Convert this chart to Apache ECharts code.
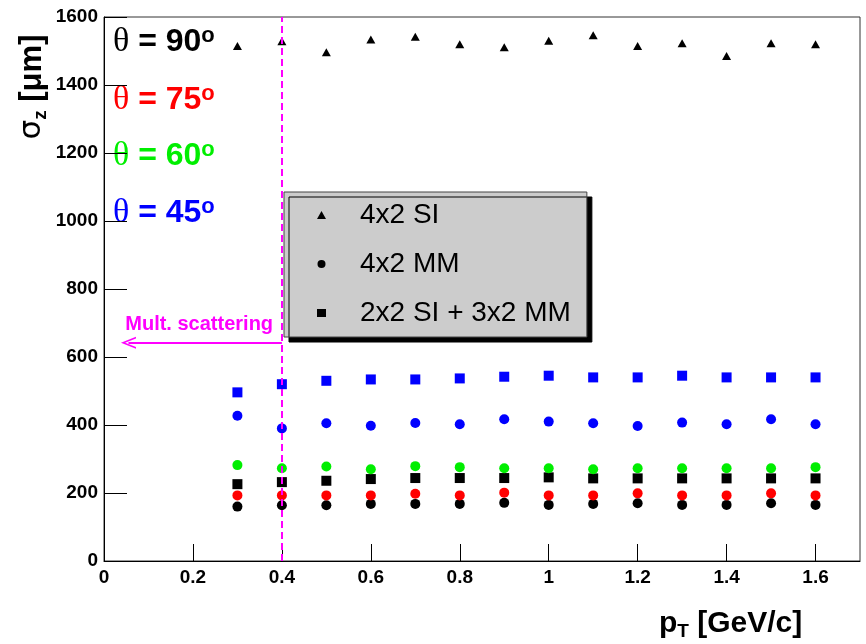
<!DOCTYPE html>
<html>
<head>
<meta charset="utf-8">
<script src="https://cdn.jsdelivr.net/npm/echarts@6/dist/echarts.min.js"></script>
<style>
  html, body { margin: 0; padding: 0; background: #ffffff; }
  #chart { width: 866px; height: 644px; }
</style>
</head>
<body>
<div id="chart"></div>
<script>
// Transverse momentum points [GeV/c]
const pT = [0.3, 0.4, 0.5, 0.6, 0.7, 0.8, 0.9, 1.0, 1.1, 1.2, 1.3, 1.4, 1.5, 1.6];

// sigma_z [um] for each layout and polar angle
const si4x2_th90 = [1515, 1529, 1496, 1534, 1542, 1520, 1511, 1530, 1546, 1515, 1523, 1485, 1523, 1520];
const mm4x2_th90 = [160, 164, 164, 168, 168, 168, 171, 165, 168, 170, 165, 165, 170, 165];
const mm4x2_th75 = [193, 193, 193, 193, 198, 193, 201, 193, 193, 199, 193, 193, 199, 193];
const mm4x2_th60 = [282, 273, 278, 270, 279, 276, 273, 273, 270, 273, 273, 273, 273, 276];
const mm4x2_th45 = [427, 390, 405, 398, 406, 402, 417, 410, 405, 397, 407, 402, 417, 402];
const mixed_th90 = [226, 232, 236, 241, 244, 244, 244, 246, 243, 243, 243, 243, 243, 243];
const mixed_th45 = [496, 520, 530, 534, 534, 537, 542, 545, 540, 540, 545, 540, 540, 540];

// Axis ranges
const xRange = [0, 1.7];
const xStep = 0.2;
const yRange = [0, 1600];
const yStep = 200;

// Annotation values
const msCut = 0.4;            // multiple-scattering limit in pT
const msArrow = [0.055, 0.4]; // arrow extent in pT
const msArrowY = 642;         // arrow height in um

const legendNames = ['4x2 SI', '4x2 MM', '2x2 SI + 3x2 MM'];
const thetaLabels = [
  { deg: '90', color: '#000000' },
  { deg: '75', color: '#ff0000' },
  { deg: '60', color: '#00ee00' },
  { deg: '45', color: '#0000ff' }
];

const pair = ys => pT.map((x, i) => [x, ys[i]]);

function markers(name, ys, symbol, size, color) {
  return {
    type: 'scatter',
    name: name,
    data: pair(ys),
    symbol: symbol,
    symbolSize: size,
    itemStyle: { color: color, opacity: 1 },
    emphasis: { disabled: true },
    silent: true
  };
}

const FONT = 'Liberation Sans';
const MAGENTA = '#ff00ff';

const chart = echarts.init(document.getElementById('chart'), null, { renderer: 'canvas' });

const thetaGraphics = thetaLabels.map((t, i) => ({
  type: 'text',
  x: 113,
  y: [42, 100, 156, 213][i],
  style: {
    text: '{t|θ}{n| = ' + t.deg + '}{o|o}',
    fill: t.color,
    align: 'left',
    verticalAlign: 'middle',
    rich: {
      t: { fontFamily: 'Liberation Serif', fontSize: 34, lineHeight: 34, fill: t.color },
      n: { fontFamily: FONT, fontWeight: 'bold', fontSize: 32, lineHeight: 34, fill: t.color },
      o: { fontFamily: FONT, fontWeight: 'bold', fontSize: 22, lineHeight: 22, verticalAlign: 'top', fill: t.color }
    }
  }
}));

const option = {
  animation: false,
  backgroundColor: '#ffffff',
  grid: {
    left: 104, right: 6, top: 17, bottom: 83,
    show: true, borderColor: '#333333', borderWidth: 1, backgroundColor: 'transparent'
  },
  xAxis: {
    type: 'value',
    min: xRange[0], max: xRange[1], interval: xStep,
    axisLine: { show: true, lineStyle: { color: '#000', width: 1 } },
    axisTick: { show: true, inside: true, length: 17, lineStyle: { color: '#000', width: 1 } },
    axisLabel: { showMaxLabel: false, margin: 7, color: '#000', fontFamily: FONT, fontWeight: 'bold', fontSize: 19 },
    splitLine: { show: false }
  },
  yAxis: {
    type: 'value',
    min: yRange[0], max: yRange[1], interval: yStep,
    axisLine: { show: true, lineStyle: { color: '#000', width: 1 } },
    axisTick: { show: true, inside: true, length: 23, lineStyle: { color: '#000', width: 1 } },
    axisLabel: {
      margin: 6, color: '#000', fontFamily: FONT, fontWeight: 'bold', fontSize: 19,
      formatter: v => String(v)
    },
    splitLine: { show: false }
  },
  legend: {
    data: legendNames,
    orient: 'vertical',
    left: 284, top: 192,
    padding: [9, 16, 10, 33],
    itemWidth: 9, itemHeight: 8, itemGap: 21,
    backgroundColor: '#cccccc',
    borderColor: '#444444', borderWidth: 1,
    shadowColor: '#000000', shadowOffsetX: 5, shadowOffsetY: 5, shadowBlur: 0,
    textStyle: { fontFamily: FONT, fontSize: 28, color: '#000', padding: [0, 0, 0, 29] },
    selectedMode: false
  },
  series: [
    markers('4x2 SI', si4x2_th90, 'triangle', [9, 8], '#000000'),
    markers('4x2 MM', mm4x2_th90, 'circle', 10, '#000000'),
    markers('2x2 SI + 3x2 MM', mixed_th90, 'rect', 10, '#000000'),
    markers('4x2 MM', mm4x2_th75, 'circle', 10, '#ff0000'),
    markers('4x2 MM', mm4x2_th60, 'circle', 10, '#00ee00'),
    markers('4x2 MM', mm4x2_th45, 'circle', 10, '#0000ff'),
    markers('2x2 SI + 3x2 MM', mixed_th45, 'rect', 10, '#0000ff'),
    {
      // dashed pT cut
      type: 'scatter', name: 'cut', data: [], silent: true,
      markLine: {
        silent: true, animation: false, symbol: 'none',
        label: { show: false },
        lineStyle: { color: MAGENTA, width: 2, type: [7, 4] },
        emphasis: { disabled: true },
        data: [{ xAxis: msCut }]
      }
    },
    {
      // arrow towards low pT
      type: 'scatter', name: 'ms', data: [], silent: true,
      markLine: {
        silent: true, animation: false,
        lineStyle: { color: MAGENTA, width: 2, type: 'solid' },
        emphasis: { disabled: true },
        label: {
          show: true, position: 'middle', formatter: 'Mult. scattering',
          color: MAGENTA, fontFamily: FONT, fontWeight: 'bold', fontSize: 20, distance: 8,
          padding: [0, 12, 0, 0]
        },
        data: [[
          { coord: [msArrow[0], msArrowY], symbol: 'path://M0,10 L5,0 L10,10 L8.6,10 L5,2.8 L1.4,10 Z', symbolSize: [12, 15] },
          { coord: [msArrow[1], msArrowY], symbol: 'none' }
        ]]
      }
    }
  ],
  graphic: thetaGraphics.concat([
    {
      type: 'text',
      x: 32, y: 87,
      rotation: Math.PI / 2,
      style: {
        text: '{s|σ}{z|z}{b| [μm]}',
        align: 'center', verticalAlign: 'middle', fill: '#000',
        rich: {
          s: { fontFamily: 'DejaVu Sans', fontSize: 31, lineHeight: 36 },
          z: { fontFamily: FONT, fontWeight: 'bold', fontSize: 19, lineHeight: 36, verticalAlign: 'bottom' },
          b: { fontFamily: FONT, fontWeight: 'bold', fontSize: 31, lineHeight: 36 }
        }
      }
    },
    {
      type: 'text',
      x: 659, y: 624,
      style: {
        text: '{p|p}{t|T}{b| [GeV/c]}',
        align: 'left', verticalAlign: 'middle', fill: '#000',
        rich: {
          p: { fontFamily: FONT, fontWeight: 'bold', fontSize: 30, lineHeight: 34 },
          t: { fontFamily: FONT, fontWeight: 'bold', fontSize: 19, lineHeight: 34, verticalAlign: 'bottom' },
          b: { fontFamily: FONT, fontWeight: 'bold', fontSize: 30, lineHeight: 34 }
        }
      }
    }
  ])
};

chart.setOption(option);
</script>
</body>
</html>
